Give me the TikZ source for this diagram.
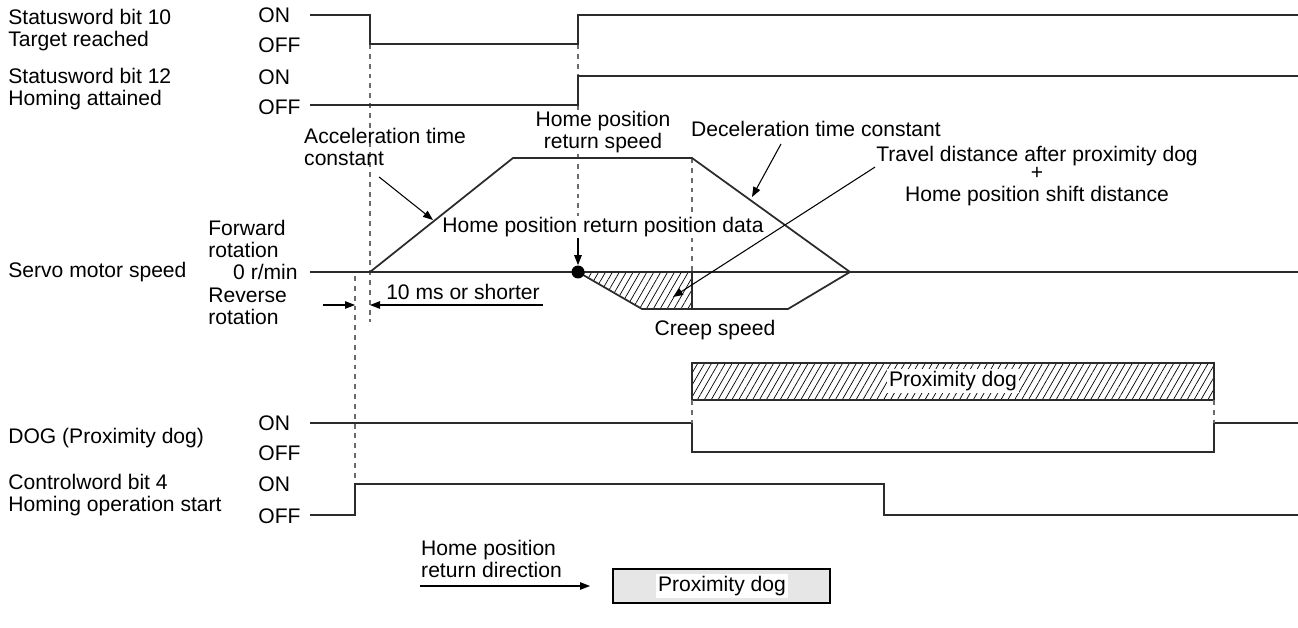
\documentclass[tikz,border=0pt]{standalone}
\usepackage{fontspec}
\setmainfont{Liberation Sans}
\usetikzlibrary{arrows.meta, positioning, patterns.meta, calc}
\definecolor{cline}{HTML}{2B2B2B}
\definecolor{cgrey}{HTML}{6B6B6B}
\definecolor{cbox}{HTML}{E6E6E6}
\tikzset{
  every picture/.style={font=\fontsize{12}{12.5}\selectfont},
  wave/.style={draw=cline, line width=1pt},
  guide/.style={draw=cgrey, line width=0.6pt, dash pattern=on 2.8pt off 2.8pt},
  sig/.style={anchor=west, align=left, inner sep=0pt},
  level/.style={anchor=west, align=left, inner sep=0pt},
  note/.style={align=center, inner sep=0.5pt},
  callout/.style={-{Triangle[length=2mm, width=1.5mm]}, draw=black, line width=0.6pt},
  hatch/.style={pattern={Lines[angle=60, distance=3.4pt, line width=0.4pt]}},
  dot/.style={circle, fill=black, inner sep=0pt, minimum size=0.26cm},
}

\begin{document}
\begin{tikzpicture}[x=0.02cm, y=-0.02cm]
  \useasboundingbox (0,0) rectangle (1298,628);
  % signal names
  \node[sig] (sw10) at (8,30) {Statusword bit 10\\Target reached};
  \node[sig] (sw12) at (8,89) {Statusword bit 12\\Homing attained};
  \node[sig] (spd) at (8,272) {Servo motor speed};
  \node[sig] (dog) at (8,438) {DOG (Proximity dog)};
  \node[sig] (cw) at (8,495) {Controlword bit 4\\Homing operation start};
  \foreach \y/\t [count=\i] in {15/ON,45/OFF,77/ON,107/OFF,423/ON,453/OFF,484/ON,516/OFF}
    \node[level] (lv\i) at (258,\y) {\t};
  \node[level] (fwd) at (208,239) {Forward\\rotation};
  \node[anchor=east, inner sep=0pt] (zero) at (298,272) {0 r/min};
  \node[level] (rev) at (208,306) {Reverse\\rotation};

  % time guides
  \draw[guide] (370,44) -- (370,322);
  \draw[guide] (355,276) -- (355,484);
  \draw[guide] (578,44) -- (578,76);
  \draw[guide] (578,105) -- (578,243);
  \draw[guide] (692,158) -- (692,272);

  % waveforms
  \draw[wave] (310,15) -| (370,44) -| (578,15) -- (1298,15);
  \draw[wave] (310,105) -| (578,76) -- (1298,76);
  \draw[wave] (310,423) -| (692,452) -| (1214,423) -- (1298,423);
  \draw[wave] (310,515) -| (355,484) -| (884,515) -- (1298,515);

  % speed
  \fill[hatch] (578,272) -- (642,309) -- (692,309) -- (692,272) -- cycle;
  \draw[wave] (310,272) -- (1298,272);
  \draw[wave] (370,272) -- (513,158) -- (692,158) -- (850,272);
  \draw[wave] (578,272) -- (642,309) -- (788,309) -- (850,272);
  \draw[wave] (692,272) -- (692,309);
  \node[dot] (hp) at (578,272) {};

  % notes
  \node[note, anchor=west, align=left] (acc) at (303,147) {Acceleration time\\constant};
  \coordinate (acctip) at (433,220);
  \draw[callout] ($(acc.south)+(-6,10)$) -- (acctip);
  \node[note, fill=white] (hprs) at (603,132) {Home position\\return speed};
  \node[note, fill=white] (hprpd) at (603,227) {Home position return position data};
  \draw[callout] (hprpd.south -| hp) -- (hp.north);
  \node[note] (dec) at (816,129) {Deceleration time constant};
  \coordinate (dectip) at (752,197);
  \draw[callout] ($(dec.south)+(-35,6)$) -- (dectip);
  \node[note] (trv) at (1037,156) {Travel distance after proximity dog};
  \node[note] (shf) at (1037,187) {+\\Home position shift distance};
  \coordinate (trvtip) at (673,297);
  \draw[callout] (trv.south west) -- (trvtip);
  \node[note] (creep) at (715,330) {Creep speed};

  % 10 ms
  \node[note] (tenms) at (463,292) {10 ms or shorter};
  \coordinate (d1) at (323,305);
  \coordinate (d2) at (355,305);
  \coordinate (d3) at (370,305);
  \coordinate (d4) at (543,305);
  \draw[callout] (d1) -- (d2);
  \draw[callout] (d4) -- (d3);

  % proximity dog
  \draw[draw=cline, line width=0.6pt, hatch] (692,363) rectangle (1214,400);
  \node[fill=white, inner sep=1pt] (pdog) at (953,381) {Proximity dog};
  \draw[guide] (692,400) -- (692,423);
  \draw[guide] (1214,400) -- (1214,423);

  % direction legend
  \node[note, anchor=west, align=left] (dir) at (420,559) {Home position\\return direction};
  \coordinate (dirtip) at (590,586);
  \draw[callout] (dir.south west |- dirtip) -- (dirtip);
  \draw[draw=black, line width=0.6pt, fill=cbox] (613,569) rectangle (830,603);
  \node[fill=white, inner sep=1pt] (legdog) at (722,586) {Proximity dog};
\end{tikzpicture}
\end{document}
